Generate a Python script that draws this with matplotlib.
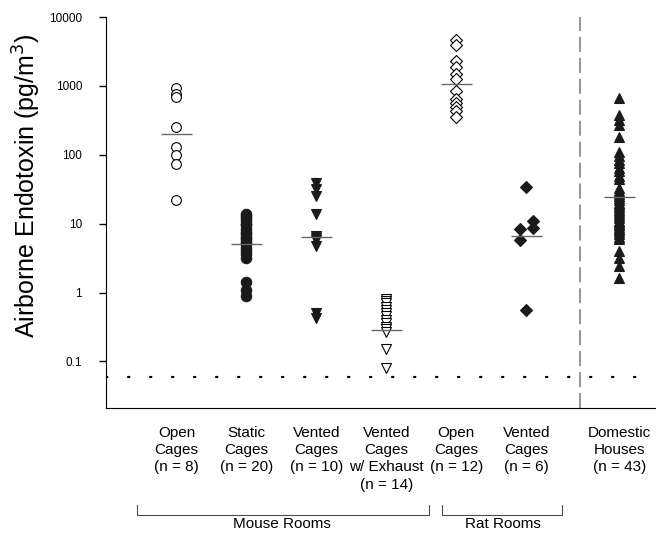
import matplotlib
matplotlib.use("Agg")
import matplotlib.pyplot as plt
import matplotlib.transforms as mtransforms
from matplotlib.lines import Line2D

plt.rcParams['font.family'] = ['Liberation Sans', 'DejaVu Sans']

# Data (pg/m3)
mouse_open = [950, 760, 700, 255, 130, 100, 74, 22]
mouse_static = [14, 13, 12, 11, 10, 9.5, 8.5, 7.5, 7, 6.5, 6, 5.5, 5, 4.5, 4,
                3.6, 3.2, 1.4, 1.1, 0.9]
mouse_vented = [39, 32, 25, 14, 6.7, 6.3, 5.7, 4.8, 0.5, 0.42]
mouse_exhaust = [0.8, 0.75, 0.7, 0.62, 0.56, 0.5, 0.45, 0.4, 0.36, 0.32, 0.3,
                 0.27, 0.15, 0.08]
rat_open = [4700, 4000, 2300, 1900, 1500, 1250, 850, 650, 560, 500, 440, 360]
rat_vented = [34, 10.8, 8.6, 8.4, 5.7, 0.55]
rat_vented_jitter = [0, 0.09, 0.09, -0.09, -0.09, 0]
domestic = [680, 380, 320, 270, 180, 110, 95, 85, 75, 65, 58, 50, 45, 33, 30,
            27, 25, 24, 22, 20, 19, 18, 17, 16, 15, 14, 13, 12, 11, 10.5, 10,
            9.5, 9, 8.5, 8, 7.5, 7, 6.5, 6, 4, 3.2, 2.4, 1.6]

medians = [200, 5.0, 6.5, 0.29, 1070, 6.7, 24.5]
group_x = [1, 2, 3, 4, 5, 6, 7.33]
labels = ["Open\nCages\n(n = 8)", "Static\nCages\n(n = 20)",
          "Vented\nCages\n(n = 10)", "Vented\nCages\nw/ Exhaust\n(n = 14)",
          "Open\nCages\n(n = 12)", "Vented\nCages\n(n = 6)",
          "Domestic\nHouses\n(n = 43)"]
detection_limit = 0.06

fig = plt.figure(figsize=(6.61, 5.35), dpi=100)
ax = fig.add_axes([0.160, 0.237, 0.831, 0.731])

dark = '#1a1a1a'
styles = [
    dict(marker='o', mfc='white', mec='black', ms=7),
    dict(marker='o', mfc=dark, mec=dark, ms=7.5),
    dict(marker='v', mfc=dark, mec=dark, ms=7.5),
    dict(marker='v', mfc='white', mec='black', ms=7.5),
    dict(marker='D', mfc='white', mec='black', ms=6.5),
    dict(marker='D', mfc=dark, mec=dark, ms=6.5),
    dict(marker='^', mfc=dark, mec=dark, ms=7.5),
]
groups = [mouse_open, mouse_static, mouse_vented, mouse_exhaust,
          rat_open, rat_vented, domestic]

for i, (vals, st) in enumerate(zip(groups, styles)):
    xs = [group_x[i]] * len(vals)
    if vals is rat_vented:
        xs = [group_x[i] + j for j in rat_vented_jitter]
    ax.plot(xs, vals, ls='none', mew=0.8, **st, zorder=3)
    ax.hlines(medians[i], group_x[i] - 0.22, group_x[i] + 0.22,
              color='0.4', lw=1, zorder=4)

ax.axhline(detection_limit, color='black', lw=1.6,
           ls=(0, (0.6, 9.3)), dash_capstyle='round')
ax.axvline(6.77, color='0.55', lw=1.3, ls=(0, (8.3, 3.3)))

ax.set_yscale('log')
ax.set_ylim(0.0209, 10000)
ax.set_xlim(-0.01, 7.84)
ax.set_yticks([0.1, 1, 10, 100, 1000, 10000])
ax.set_yticklabels(['0.1', '1', '10', '100', '1000', '10000'])
ax.minorticks_off()
ax.set_xticks([])
ax.tick_params(axis='y', direction='out', length=5, width=1, labelsize=8.5,
               pad=12)
for s in ['top', 'right']:
    ax.spines[s].set_visible(False)
ax.set_ylabel('Airborne Endotoxin (pg/m$^3$)', fontsize=18)
ax.yaxis.set_label_coords(-0.114, 0.57)

trans = mtransforms.blended_transform_factory(ax.transData, ax.transAxes)
for x, lab in zip(group_x, labels):
    ax.text(x, -0.045, lab, transform=trans, ha='center', va='top',
            fontsize=11, linespacing=1.3)

# group brackets
for x0, x1 in [(0.43, 4.61), (4.80, 6.51)]:
    ax.add_line(Line2D([x0, x0, x1, x1], [-0.248, -0.274, -0.274, -0.248],
                       transform=trans, color='0.3', lw=0.8, clip_on=False))
ax.text(2.51, -0.297, 'Mouse Rooms', transform=trans, ha='center',
        va='center', fontsize=11)
ax.text(5.66, -0.297, 'Rat Rooms', transform=trans, ha='center',
        va='center', fontsize=11)

fig.savefig('out.png', dpi=100)
